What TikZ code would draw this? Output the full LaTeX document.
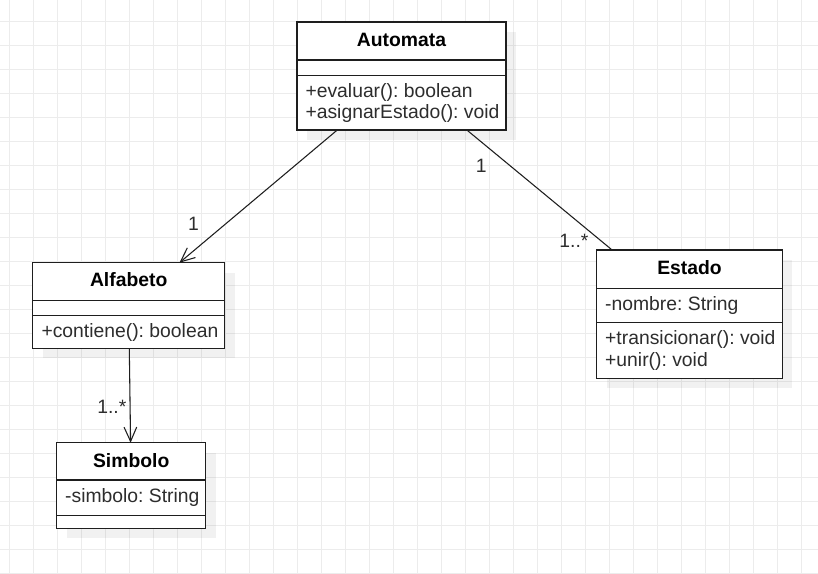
\documentclass[tikz,border=0pt]{standalone}
\usepackage{fontspec}
\setmainfont{Liberation Sans}
\usetikzlibrary{fit,shadows,arrows.meta}
\frenchspacing

\definecolor{gridline}{RGB}{236,236,236}
\definecolor{umlline}{RGB}{30,30,30}
\definecolor{umltext}{RGB}{45,45,45}
\newcommand{\umlfont}{\fontsize{14.5pt}{17pt}\selectfont}

\tikzset{every picture/.style={line width=0.75pt}}
\tikzset{
  classbox/.style={draw=umlline, line width=0.85pt, fill=white, inner sep=0pt, outer sep=0pt,
    drop shadow={shadow xshift=7.5pt, shadow yshift=-7.5pt, fill=black, opacity=0.055}},
  classname/.style={anchor=base, inner sep=0pt, font=\umlfont\bfseries, text=black},
  member/.style={anchor=base west, inner sep=0pt, font=\umlfont, text=umltext},
  mult/.style={anchor=base, inner sep=0pt, font=\umlfont, text=umltext},
  sep/.style={draw=umlline, line width=0.85pt},
  assoc/.style={draw=umlline, line width=0.8pt},
  navig/.style={assoc, -{Straight Barb[length=10.7pt, width=9.5pt]}},
}

\begin{document}
\begin{tikzpicture}[x=0.75pt,y=0.75pt,yscale=-1,xscale=1]
	%set diagram to 818 x 574, white page with the light grid
	\fill[white] (0,0) rectangle (818,574);
	\useasboundingbox (0,0) rectangle (818,574);
	\foreach \gx in {0,...,33} \draw[gridline, line width=0.9pt] (9.3+24*\gx,0) -- (9.3+24*\gx,574);
	\foreach \gy in {0,...,23} \draw[gridline, line width=0.9pt] (0,21.3+24*\gy) -- (818,21.3+24*\gy);

	%Class: Automata
	\node[classbox, fit={(297,22) (506,130)}] (automata) {};
	\draw[sep] (297,60) -- (506,60);
	\draw[sep] (297,75.7) -- (506,75.7);
	\node[classname] (automataName) at (401.5,46.7) {Automata};
	\node[member] (automataEvaluar) at (305,97.7) {+evaluar(): boolean};
	\node[member] (automataAsignar) at (305,118.3) {+asignarEstado(): void};

	%Class: Alfabeto
	\node[classbox, fit={(32.7,262.7) (224.7,348.3)}] (alfabeto) {};
	\draw[sep] (32.7,300.7) -- (224.7,300.7);
	\draw[sep] (32.7,315.7) -- (224.7,315.7);
	\node[classname] (alfabetoName) at (128.7,286.9) {Alfabeto};
	\node[member] (alfabetoContiene) at (41,337.3) {+contiene(): boolean};

	%Class: Simbolo
	\node[classbox, fit={(56.7,442.7) (205.7,528.3)}] (simbolo) {};
	\draw[sep] (56.7,480) -- (205.7,480);
	\draw[sep] (56.7,515.7) -- (205.7,515.7);
	\node[classname] (simboloName) at (131.2,467.3) {Simbolo};
	\node[member] (simboloSimbolo) at (64.7,502.3) {-simbolo: String};

	%Class: Estado
	\node[classbox, fit={(596.7,250) (782.3,378.3)}] (estado) {};
	\draw[sep] (596.7,288.3) -- (782.3,288.3);
	\draw[sep] (596.7,322.7) -- (782.3,322.7);
	\node[classname] (estadoName) at (689.5,275) {Estado};
	\node[member] (estadoNombre) at (604.7,310.7) {-nombre: String};
	\node[member] (estadoTransicionar) at (604.7,344) {+transicionar(): void};
	\node[member] (estadoUnir) at (604.7,366.7) {+unir(): void};

	%Associations
	\draw[navig] (automata) -- (alfabeto);
	\draw[assoc] (automata) -- (estado);
	\draw[navig] (alfabeto) -- (simbolo);

	%Multiplicities
	\node[mult] (multAlfabeto) at (193.5,230.3) {1};
	\node[mult] (multAutomata) at (481.2,172.7) {1};
	\node[mult, anchor=base east] (multEstado) at (589,247.5) {1..*};
	\node[mult, anchor=base east] (multSimbolo) at (126.8,413.7) {1..*};

\end{tikzpicture}
\end{document}
